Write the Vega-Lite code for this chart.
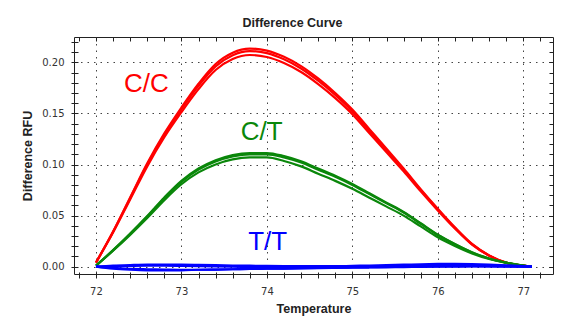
{
  "$schema": "https://vega.github.io/schema/vega-lite/v6.json",
  "width": 479,
  "height": 237,
  "autosize": "none",
  "padding": {"left": 74, "top": 37, "right": 10, "bottom": 52},
  "background": "white",
  "title": {"text": "Difference Curve", "font": "Liberation Sans", "fontSize": 12.5, "fontWeight": "bold", "color": "#222", "frame": "group", "anchor": "middle", "dx": -21, "offset": -6, "baseline": "bottom"},
  "config": {
    "view": {"stroke": "#222", "strokeWidth": 1},
    "axis": {"labelFont": "DejaVu Sans", "titleFont": "Liberation Sans", "labelColor": "#333", "titleColor": "#222", "tickColor": "#222", "labelFontSize": 10, "titleFontSize": 12.5, "titleFontWeight": "bold", "labelOverlap": false, "labelFlush": false}
  },
  "datasets": {
    "curves": [
      {"t": 72.0, "cc1": 0.0040, "cc2": 0.0040, "cc3": 0.0040, "ct1": 0.0010, "ct2": 0.0010, "ct3": 0.0010, "tt1": 0, "tt2": 0, "tt3": 0, "tt4": 0},
      {"t": 72.2, "cc1": 0.0344, "cc2": 0.0340, "cc3": 0.0334, "ct1": 0.0162, "ct2": 0.0160, "ct3": 0.0156, "tt1": 0.0010, "tt2": -0.0012, "tt3": 0.0005, "tt4": -0.0020},
      {"t": 72.4, "cc1": 0.0678, "cc2": 0.0670, "cc3": 0.0658, "ct1": 0.0324, "ct2": 0.0320, "ct3": 0.0311, "tt1": 0.0016, "tt2": -0.0020, "tt3": 0.0008, "tt4": -0.0030},
      {"t": 72.6, "cc1": 0.1012, "cc2": 0.1000, "cc3": 0.0982, "ct1": 0.0496, "ct2": 0.0490, "ct3": 0.0476, "tt1": 0.0020, "tt2": -0.0025, "tt3": 0.0010, "tt4": -0.0035},
      {"t": 72.8, "cc1": 0.1305, "cc2": 0.1290, "cc3": 0.1267, "ct1": 0.0678, "ct2": 0.0670, "ct3": 0.0651, "tt1": 0.0020, "tt2": -0.0028, "tt3": 0.0010, "tt4": -0.0035},
      {"t": 73.0, "cc1": 0.1558, "cc2": 0.1540, "cc3": 0.1512, "ct1": 0.0840, "ct2": 0.0830, "ct3": 0.0807, "tt1": 0.0020, "tt2": -0.0030, "tt3": 0.0008, "tt4": -0.0035},
      {"t": 73.2, "cc1": 0.1791, "cc2": 0.1770, "cc3": 0.1738, "ct1": 0.0961, "ct2": 0.0950, "ct3": 0.0923, "tt1": 0.0018, "tt2": -0.0030, "tt3": 0.0005, "tt4": -0.0030},
      {"t": 73.4, "cc1": 0.1984, "cc2": 0.1960, "cc3": 0.1925, "ct1": 0.1042, "ct2": 0.1030, "ct3": 0.1001, "tt1": 0.0015, "tt2": -0.0028, "tt3": 0.0002, "tt4": -0.0028},
      {"t": 73.6, "cc1": 0.2095, "cc2": 0.2070, "cc3": 0.2033, "ct1": 0.1093, "ct2": 0.1080, "ct3": 0.1050, "tt1": 0.0012, "tt2": -0.0025, "tt3": 0.0000, "tt4": -0.0025},
      {"t": 73.8, "cc1": 0.2135, "cc2": 0.2110, "cc3": 0.2072, "ct1": 0.1113, "ct2": 0.1100, "ct3": 0.1069, "tt1": 0.0010, "tt2": -0.0022, "tt3": -0.0002, "tt4": -0.0022},
      {"t": 74.0, "cc1": 0.2115, "cc2": 0.2090, "cc3": 0.2052, "ct1": 0.1113, "ct2": 0.1100, "ct3": 0.1069, "tt1": 0.0008, "tt2": -0.0020, "tt3": -0.0004, "tt4": -0.0020},
      {"t": 74.2, "cc1": 0.2054, "cc2": 0.2030, "cc3": 0.1993, "ct1": 0.1083, "ct2": 0.1070, "ct3": 0.1035, "tt1": 0.0006, "tt2": -0.0018, "tt3": -0.0005, "tt4": -0.0018},
      {"t": 74.4, "cc1": 0.1963, "cc2": 0.1940, "cc3": 0.1905, "ct1": 0.1032, "ct2": 0.1020, "ct3": 0.0982, "tt1": 0.0005, "tt2": -0.0015, "tt3": -0.0005, "tt4": -0.0016},
      {"t": 74.6, "cc1": 0.1842, "cc2": 0.1820, "cc3": 0.1787, "ct1": 0.0961, "ct2": 0.0950, "ct3": 0.0910, "tt1": 0.0005, "tt2": -0.0012, "tt3": -0.0004, "tt4": -0.0014},
      {"t": 74.8, "cc1": 0.1700, "cc2": 0.1680, "cc3": 0.1650, "ct1": 0.0891, "ct2": 0.0880, "ct3": 0.0840, "tt1": 0.0006, "tt2": -0.0010, "tt3": -0.0002, "tt4": -0.0012},
      {"t": 75.0, "cc1": 0.1538, "cc2": 0.1520, "cc3": 0.1493, "ct1": 0.0810, "ct2": 0.0800, "ct3": 0.0762, "tt1": 0.0008, "tt2": -0.0008, "tt3": 0.0000, "tt4": -0.0010},
      {"t": 75.2, "cc1": 0.1346, "cc2": 0.1330, "cc3": 0.1306, "ct1": 0.0719, "ct2": 0.0710, "ct3": 0.0675, "tt1": 0.0012, "tt2": -0.0005, "tt3": 0.0003, "tt4": -0.0008},
      {"t": 75.4, "cc1": 0.1154, "cc2": 0.1140, "cc3": 0.1119, "ct1": 0.0627, "ct2": 0.0620, "ct3": 0.0588, "tt1": 0.0016, "tt2": -0.0002, "tt3": 0.0006, "tt4": -0.0006},
      {"t": 75.6, "cc1": 0.0961, "cc2": 0.0950, "cc3": 0.0933, "ct1": 0.0536, "ct2": 0.0530, "ct3": 0.0500, "tt1": 0.0020, "tt2": 0.0000, "tt3": 0.0010, "tt4": -0.0004},
      {"t": 75.8, "cc1": 0.0759, "cc2": 0.0750, "cc3": 0.0737, "ct1": 0.0425, "ct2": 0.0420, "ct3": 0.0394, "tt1": 0.0024, "tt2": 0.0002, "tt3": 0.0013, "tt4": -0.0002},
      {"t": 76.0, "cc1": 0.0567, "cc2": 0.0560, "cc3": 0.0550, "ct1": 0.0314, "ct2": 0.0310, "ct3": 0.0288, "tt1": 0.0027, "tt2": 0.0004, "tt3": 0.0015, "tt4": 0.0000},
      {"t": 76.2, "cc1": 0.0385, "cc2": 0.0380, "cc3": 0.0373, "ct1": 0.0223, "ct2": 0.0220, "ct3": 0.0203, "tt1": 0.0028, "tt2": 0.0005, "tt3": 0.0016, "tt4": 0.0001},
      {"t": 76.4, "cc1": 0.0223, "cc2": 0.0220, "cc3": 0.0216, "ct1": 0.0142, "ct2": 0.0140, "ct3": 0.0130, "tt1": 0.0026, "tt2": 0.0005, "tt3": 0.0015, "tt4": 0.0002},
      {"t": 76.6, "cc1": 0.0111, "cc2": 0.0110, "cc3": 0.0108, "ct1": 0.0081, "ct2": 0.0080, "ct3": 0.0075, "tt1": 0.0021, "tt2": 0.0004, "tt3": 0.0012, "tt4": 0.0002},
      {"t": 76.8, "cc1": 0.0040, "cc2": 0.0040, "cc3": 0.0039, "ct1": 0.0040, "ct2": 0.0040, "ct3": 0.0038, "tt1": 0.0014, "tt2": 0.0003, "tt3": 0.0008, "tt4": 0.0001},
      {"t": 77.0, "cc1": 0.0010, "cc2": 0.0010, "cc3": 0.0010, "ct1": 0.0010, "ct2": 0.0010, "ct3": 0.0010, "tt1": 0.0005, "tt2": 0.0001, "tt3": 0.0003, "tt4": 0.0000},
      {"t": 77.1, "cc1": 0.0000, "cc2": 0.0000, "cc3": 0.0000, "ct1": 0.0000, "ct2": 0.0000, "ct3": 0.0000, "tt1": 0.0000, "tt2": 0.0000, "tt3": 0.0000, "tt4": 0.0000}
    ],
    "labels": [
      {"t": 72.59, "v": 0.179, "series": "cc2", "label": "C/C"},
      {"t": 73.94, "v": 0.132, "series": "ct2", "label": "C/T"},
      {"t": 74.01, "v": 0.024, "series": "tt2", "label": "T/T"}
    ]
  },
  "resolve": {"axis": {"x": "independent", "y": "independent"}},
  "layer": [
    {
      "data": {"name": "labels"},
      "mark": {"type": "point", "opacity": 0},
      "encoding": {
        "x": {"field": "t", "type": "quantitative", "scale": {"domain": [71.743, 77.348], "nice": false, "zero": false},
          "axis": {"orient": "bottom", "domain": false, "ticks": false, "labels": false, "title": null, "grid": true, "values": [72, 73, 74, 75, 76, 77], "gridDash": [1.5, 5], "gridColor": "#444", "gridWidth": 1}},
        "y": {"field": "v", "type": "quantitative", "scale": {"domain": [-0.00714, 0.2248], "nice": false, "zero": false},
          "axis": {"orient": "left", "domain": false, "ticks": false, "labels": false, "title": null, "grid": true, "values": [0, 0.05, 0.1, 0.15, 0.2], "gridDash": [1.5, 5], "gridColor": "#444", "gridWidth": 1}}
      }
    },
    {
      "data": {"name": "curves"},
      "transform": [{"fold": ["cc1", "cc2", "cc3", "ct1", "ct2", "ct3", "tt1", "tt2", "tt3", "tt4"], "as": ["series", "v"]}],
      "mark": {"type": "line", "strokeWidth": 2.2, "interpolate": "monotone"},
      "encoding": {
        "x": {"field": "t", "type": "quantitative", "scale": {"domain": [71.743, 77.348], "nice": false, "zero": false},
          "axis": {"orient": "bottom", "offset": -2, "domain": false, "grid": false, "tickSize": 6, "tickWidth": 1,
            "values": [71.8, 72, 72.2, 72.4, 72.6, 72.8, 73, 73.2, 73.4, 73.6, 73.8, 74, 74.2, 74.4, 74.6, 74.8, 75, 75.2, 75.4, 75.6, 75.8, 76, 76.2, 76.4, 76.6, 76.8, 77, 77.2],
            "labelExpr": "abs(datum.value - round(datum.value)) < 0.001 ? format(datum.value, 'd') : ''",
            "labelPadding": 8, "title": "Temperature", "titlePadding": 6}},
        "y": {"field": "v", "type": "quantitative", "scale": {"domain": [-0.00714, 0.2248], "nice": false, "zero": false},
          "axis": {"orient": "left", "offset": -4, "domain": false, "grid": false, "tickSize": 7, "tickWidth": 1,
            "values": [0, 0.01, 0.02, 0.03, 0.04, 0.05, 0.06, 0.07, 0.08, 0.09, 0.1, 0.11, 0.12, 0.13, 0.14, 0.15, 0.16, 0.17, 0.18, 0.19, 0.2, 0.21, 0.22],
            "labelExpr": "abs(datum.value * 20 - round(datum.value * 20)) < 0.001 ? format(datum.value, '.2f') : ''",
            "labelPadding": 7, "title": "Difference RFU", "titlePadding": 7}},
        "color": {"field": "series", "type": "nominal", "legend": null,
          "scale": {"domain": ["cc1", "cc2", "cc3", "ct1", "ct2", "ct3", "tt1", "tt2", "tt3", "tt4"],
            "range": ["#ff0000", "#ff0000", "#ff0000", "#0a870a", "#0a870a", "#0a870a", "#0000ff", "#0000ff", "#0000ff", "#0000ff"]}}
      }
    },
    {
      "data": {"name": "labels"},
      "mark": {"type": "text", "font": "Liberation Sans", "fontSize": 26, "align": "center", "baseline": "middle"},
      "encoding": {
        "x": {"field": "t", "type": "quantitative", "scale": {"domain": [71.743, 77.348], "nice": false, "zero": false},
          "axis": {"orient": "top", "offset": -4, "domain": false, "grid": false, "labels": false, "title": null, "tickSize": 4,
            "values": [71.8, 72, 72.2, 72.4, 72.6, 72.8, 73, 73.2, 73.4, 73.6, 73.8, 74, 74.2, 74.4, 74.6, 74.8, 75, 75.2, 75.4, 75.6, 75.8, 76, 76.2, 76.4, 76.6, 76.8, 77, 77.2]}},
        "y": {"field": "v", "type": "quantitative", "scale": {"domain": [-0.00714, 0.2248], "nice": false, "zero": false},
          "axis": {"orient": "right", "offset": -4, "domain": false, "grid": false, "labels": false, "title": null, "tickSize": 4,
            "values": [0, 0.01, 0.02, 0.03, 0.04, 0.05, 0.06, 0.07, 0.08, 0.09, 0.1, 0.11, 0.12, 0.13, 0.14, 0.15, 0.16, 0.17, 0.18, 0.19, 0.2, 0.21, 0.22]}},
        "text": {"field": "label"},
        "color": {"field": "series", "type": "nominal", "legend": null}
      }
    }
  ]
}
